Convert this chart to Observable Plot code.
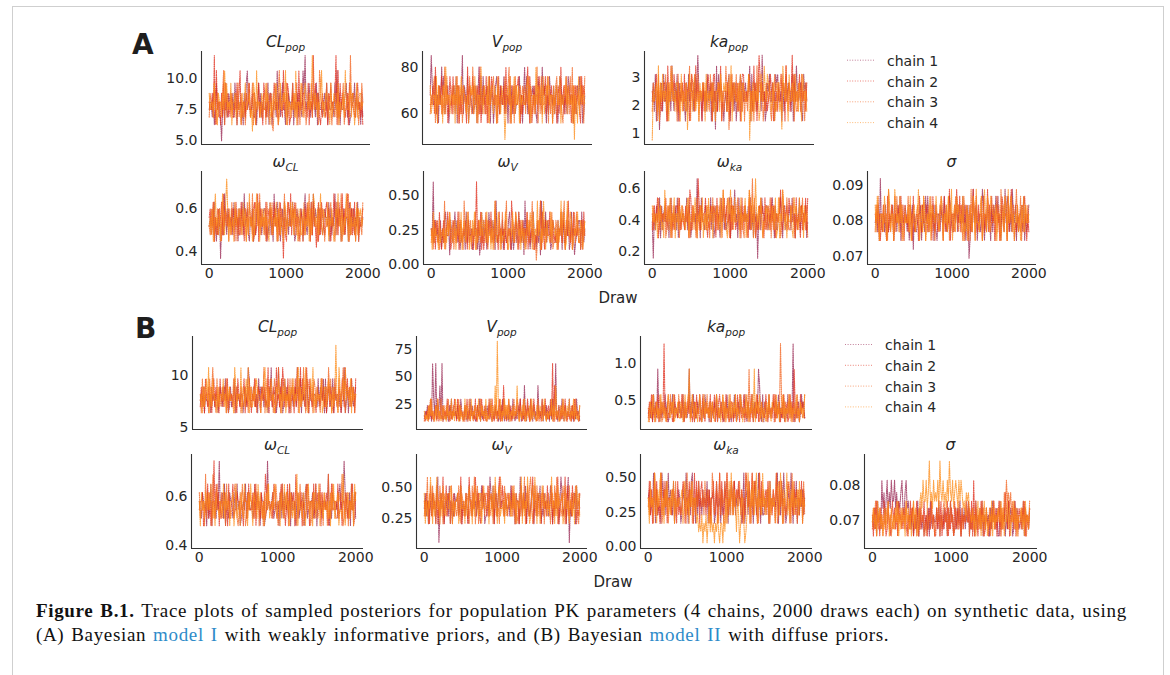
<!DOCTYPE html>
<html>
<head>
<meta charset="utf-8">
<script src="https://cdn.jsdelivr.net/npm/d3@7"></script>
<script src="https://cdn.jsdelivr.net/npm/@observablehq/plot@0.6"></script>
<style>
  html, body { margin: 0; padding: 0; background: #fff; }
  #fig { position: relative; width: 1170px; height: 675px; overflow: hidden; background: #fff; }
  #box { position: absolute; left: 12px; top: 6px; width: 1152px; height: 720px; border: 1px solid #cfcfcf; box-sizing: border-box; }
  .panel { position: absolute; }
  .panel svg { overflow: visible; display: block; }
  #labels { position: absolute; left: 0; top: 0; pointer-events: none; }
  #caption { position: absolute; left: 36px; top: 599px; font-family: "Liberation Serif", "Times New Roman", serif; font-size: 19px; letter-spacing: 0.66px; word-spacing: 1.5px; line-height: 24px; color: #111; white-space: nowrap; }
  #caption .lk { color: #2e8bc9; }
</style>
</head>
<body>
<div id="fig">
  <div id="box"></div>
  <div id="caption"><b>Figure B.1.</b> Trace plots of sampled posteriors for population PK parameters (4 chains, 2000 draws each) on synthetic data, using<br>(A) Bayesian <span class="lk">model I</span> with weakly informative priors, and (B) Bayesian <span class="lk">model II</span> with diffuse priors.</div>
</div>
<script>
// ---- chains, legend and draw axis ----
const chainLabels = ["chain 1", "chain 2", "chain 3", "chain 4"];
const chainColors = ["#9a2a55", "#e0301e", "#f26522", "#fd8d1c"];
const drawDomain = [-100, 2099];
const drawTicks = [0, 1000, 2000];

// Each trace is stored as a string of level codes (one digit per thinned draw);
// the matching *_levels array gives the parameter value of each code.

// (A) model I — CL_pop
const clPopA_levels = [5.0, 5.8, 6.3, 6.9, 7.5, 8.1, 8.8, 9.6, 10.6, 11.8];
const clPopA_chains = [
  "4553624745 3304527436 5446375254 5542637854 4463352574 6354453726 6245538463 5744263655 4725546364 3869454735 4653726445 3564725445 5374836254 4567352346 5736454263",
  "5446392845 5263744563 4653354746 8245536457 3456624573 5427634556 5347645256 4384557623 3655472845 4665437255 3947465324 6443526574 5569283746 5435627645 4356745352",
  "3654475263 5546827354 5364456273 4635524476 3572645553 4536627354 6214753685 4456372454 5746345526 7635245547 3655462874 3455736442 5436625345 7244563956 6536425475",
  "6455374426 5536485745 4725563445 4263574556 3417628455 3654475632 5364475237 4565826453 5463825547 4357654645 9746535468 4536654273 4655372544 6385445736 5247356645"
];
// (A) V_pop
const vPopA_levels = [49, 53, 56, 60, 64, 68, 72, 76, 80, 85];
const vPopA_chains = [
  "5964473526 4857345624 4556372645 5936547245 4364625837 3745564726 5246754364 4735526463 5634457352 5847342556 4632754485 6425375546 3562476453 5437645524 4365746235",
  "4456385264 5734566247 5374456625 3565428465 5734456382 4653725447 6455247365 4638454726 3546674253 5446837524 6355475436 5736445625 4525638456 3746552463 6455327465",
  "3546725446 5365837454 4635547263 6245536474 3856462534 5463362745 6744526355 4473568244 6274455636 5635472653 5448263754 4547263554 4673545326 6455374826 3654475627",
  "6345537264 4526384553 5546273645 7465435246 5637425548 4365547256 4365274436 5403564725 5736462545 4456736245 5384654627 3465745526 3564472545 5736445260 5427364554"
];
// (A) ka_pop
const kaPopA_levels = [0.78, 1.15, 1.45, 1.8, 2.15, 2.5, 2.8, 3.1, 3.4, 3.78];
const kaPopA_chains = [
  "4637255146 3744625538 5364726455 5426374655 3746955426 4537456263 5183746542 4536724563 6245573645 6455827346 4365539452 3657446527 6744526357 4655372648 5456327564",
  "5445736253 4665284456 4755362546 3745562476 5384645526 3546745627 7443658245 5536427465 5463526774 4547635384 6259746453 6345754253 5364475628 4563594745 4573645536",
  "3655427364 5547326485 6445273656 4463558274 6345725546 5364437526 4536647253 4856154736 4735645362 5437645526 3847565243 5546326475 6455736548 4365547253 3654745264",
  "0545638264 7455362648 4536654273 5436147553 6734526456 6273545463 4255637446 5633748256 5446372655 4457052635 5462374485 4765534624 3663418546 5274465374 5364276453"
];
// (A) omega_CL
const wClA_levels = [0.37, 0.42, 0.45, 0.48, 0.52, 0.56, 0.60, 0.63, 0.67, 0.74];
const wClA_chains = [
  "4546374253 6045385364 5463745526 4573845632 5462436547 4356652437 3528467452 4637545364 5742365546 5258436547 3846557364 3465547263 5483746524 6345527364 6354725445",
  "5634725436 4573846546 4536627453 3745265447 5536734825 6445372565 6347452637 4405326748 3657445236 5436475526 3754152637 5436756425 4855637458 4637845563 4725634456",
  "4364725365 5427356452 5374456263 6365442735 5482376548 3645527546 4735645273 6548437654 4563736425 5273564827 3645427365 6524453674 5427356482 4365582736 5346625437",
  "4536258453 6258437962 6345274556 5437462538 4526358472 5463645327 6345472653 5427635447 4736552463 3653547263 5874463584 3655472546 4236584526 3548526354 4527365645"
];
// (A) omega_V
const wVA_levels = [0.03, 0.07, 0.11, 0.16, 0.21, 0.26, 0.32, 0.38, 0.46, 0.60];
const wVA_chains = [
  "5493645346 2536744516 4357463524 3452736445 2364525137 3645237546 4628344536 2543367425 2563475436 1836442537 4425351846 4736542365 5336456273 3546237451 3456627435",
  "4536256374 2463447562 3564437265 3546526344 5255936472 5246365473 4384427354 5263445286 4375526346 3547263545 2436458274 2654473563 4352547365 2648536274 5463346274",
  "3526463425 4538256473 4625354736 4285347462 5347256435 3457426535 5274436527 4368254436 5364273645 5527436582 2403658274 4536654723 3652547368 2574436257 3745523646",
  "5273544263 4452536475 5346256437 2563475243 6472534647 4653734526 2583476253 4476325547 3476545263 5235647627 3548462538 5264437365 4526358476 2385476235 4573365246"
];
// (A) omega_ka
const wKaA_levels = [0.16, 0.24, 0.29, 0.34, 0.39, 0.44, 0.49, 0.54, 0.59, 0.66];
const wKaA_chains = [
  "4053645726 3564452673 5463726445 5447365245 4539462754 3654547362 3655427463 5344726558 4527365546 4463735264 5046375546 6345475263 3557426634 4563745254 4736554624",
  "5364572464 5547346525 4356657345 4364528736 4552963645 5742436556 5273654457 3644527365 3465527364 5427364552 4346556273 4653746425 4558436456 3764455273 5426354737",
  "3645547364 5462365472 6354472536 5356472436 5427536544 4536625474 6363547285 4574263654 5673454326 5238659472 5365742436 3547263645 5472386547 4336574253 4465735362",
  "6453526463 4285463725 4725536464 5436725446 3752546372 5363745625 5564372584 4327584637 4456273547 2548637259 5463752446 5634465372 3725486352 5446327564 3745626455"
];
// (A) sigma
const sigA_levels = [0.0695, 0.072, 0.0745, 0.077, 0.0795, 0.082, 0.0845, 0.087, 0.089, 0.092];
const sigA_chains = [
  "4536294553 6243545624 5364725446 5352446153 3455626437 4735546263 2553644753 4476435547 3654473625 6025384562 4534862536 5426364757 4526538476 3538546253 4563725346",
  "5463524364 4273546527 4556374625 4536652734 5527436445 6345527436 4346552736 3482553648 5473645265 2463485473 6455273548 3647452564 5237645527 3684524364 5346674253",
  "3647255364 5528436525 3745562446 4473625443 5652443762 5463736425 5534762554 3726544376 4356427556 4528376254 4367255437 6534465273 6285437625 4473655843 4725356464",
  "6375245537 5248635528 6453746235 4463724563 4582463752 4537265547 5436752546 3745825637 5645372436 2564375284 4357248537 4376554625 5524637528 4673525463 5264736445"
];

// (B) model II — CL_pop
const clPopB_levels = [5.3, 5.9, 6.4, 7.0, 7.6, 8.2, 8.9, 9.7, 10.8, 13.0];
const clPopB_chains = [
  "4536254435 2645355246 5364745236 3457264535 5246358744 4653527465 6353426483 5562483572 3746452563 4638457264 5375264435 5437365472 7246535726 4553524482 4625574356",
  "3645275364 5257364427 4536627354 5346427536 4572536452 5473346526 4563482753 6428453648 6354725445 2735648475 3684275364 4265537463 5257364527 5346527538 5746435627",
  "5273645527 3684527364 3655473264 5472364552 4346552736 4537265546 4825736445 2763485273 5463537274 6458273548 5237645527 6345426753 3648572364 5527346852 4556374625",
  "4526357482 6375442635 5473526464 4428635548 2653748263 3646754325 5784263574 5236574526 4725463657 3547826357 4862357482 5364547236 6357452635 9428635748 4653726455"
];
// (B) V_pop
const vPopB_levels = [8, 10, 12, 15, 19, 24, 30, 42, 62, 82];
const vPopB_chains = [
  "2435243186 3825472813 3241536243 4253164325 3142635241 2536142435 3526314253 4135263142 4153263142 5361427315 4263152437 3426153524 1526348315 4263152436 2351426341",
  "3142536241 3526143253 4263152436 4162534215 3624153426 1534263152 1352463152 4361527431 3625143426 5263142536 4125364215 2413536245 2638175243 1524363142 4152634213",
  "1324153624 2513426315 2536314253 3426153241 5316243152 3142635241 4263514236 1524316253 5231426354 4153261425 3162453216 1436253142 4352614235 1426351243 3524163425",
  "4231526342 1536241352 3152436241 6431524136 2543162435 4263153426 1324615372 9526143625 2614352437 3142536124 3516243152 3541263142 4361527341 2536142536 1436252315"
];
// (B) ka_pop
const kaPopB_levels = [0.17, 0.22, 0.27, 0.33, 0.40, 0.48, 0.58, 0.72, 0.92, 1.26];
const kaPopB_chains = [
  "3425163428 3152436251 2436153425 3426153248 2536142536 3152643415 1425361423 5214362531 4263125364 4263152436 1524387316 1534263245 4253614253 1426352491 3425136452",
  "2536142536 1425392413 3541264325 5263142536 2413526341 2463153426 2536142563 4152634125 5134263152 3614253162 4352614253 3264153426 1624351426 3541263518 4253163542",
  "4152634152 3641253146 2635142436 4236152463 4263152436 4152436251 1524361425 3641523162 3426153643 4325618253 1426351243 2541362435 6152439526 1435261425 1463254236",
  "1352461352 4163524136 4253614352 2541362458 1364253146 3146253425 2531465241 3625143625 2536143264 1436251436 2815436251 4315263154 4362514362 5143625143 3624153426"
];
// (B) omega_CL
const wClB_levels = [0.41, 0.45, 0.48, 0.51, 0.545, 0.58, 0.615, 0.65, 0.69, 0.745];
const wClB_chains = [
  "5436545263 4725543649 4563725436 5534647452 3454736644 5347465526 5523495445 6345452637 3654537264 4525634556 2673445563 4725645355 5458243654 4536745596 5436274463",
  "4556234573 6245937462 5346654273 4573446553 5426553744 4637255436 3538645545 3764345574 5524736465 6285344625 4347625537 3456472645 4652437445 5473462553 6345547236",
  "6344528364 5528346755 3645527463 3446753246 4755236465 5463746255 4263475543 6457523647 4356627345 5532647452 3674552364 5743456526 4528364755 3346558236 4625374456",
  "5264536546 4753526443 5437364552 5562473452 6437552647 4265537464 3525647345 4674355264 3746452653 5358264436 5246735526 6354725436 4453526473 5562443852 4563546275"
];
// (B) omega_V
const wVB_levels = [0.06, 0.15, 0.21, 0.27, 0.33, 0.39, 0.45, 0.51, 0.58, 0.70];
const wVB_chains = [
  "4635245364 5258036452 5463725436 5563472543 6427543645 3645574623 3538647256 3674554364 4537465265 5285364725 4346725536 5724364553 4752536442 5863452580 4356627454",
  "5364527536 4472536482 4736554263 5563482453 6428553648 5463247565 3735645275 3684475364 3654736425 5257364527 5346827536 4526645374 4572536482 4563482753 5374562436",
  "3548265374 5256374526 5346627454 5347526534 4562537482 4725364536 6573452653 4428653745 6453547263 2635548265 3784265374 3564725446 4256374826 5347526537 4635574326",
  "6253548526 3584526374 3654476253 5562374452 6347552637 5436625744 4525637485 2673445263 4563374625 5458263548 5236748526 6247546535 3584526374 5562374452 5436257463"
];
// (B) omega_ka
const wKaB_levels = [0.03, 0.11, 0.17, 0.23, 0.29, 0.35, 0.41, 0.47, 0.53, 0.61];
const wKaB_chains = [
  "5634485263 4428563748 4653725446 5236548526 3784526374 5364547263 5562374452 6347552637 6473546552 4825637445 2673485263 3546627454 5458263748 5236548526 4725364635",
  "4736258473 5285374625 5436654273 4347625537 4652837462 6745536462 5573462583 7426583546 5374657546 2538746258 3764258374 4563725436 5285374625 4347625537 3654547264",
  "5374528364 4582364752 4536627354 5346752836 4725536475 5463745625 2863475283 6457283547 3745564736 5238647528 3674528364 6354472546 4582364752 5346752836 5426365473",
  "5264538526 4783526473 5364725445 5562473452 6473552312 1302130241 3120213102 2031524738 5364153025 5201385264 7358264538 4536627354 5246738526 4583526473 5463746254"
];
// (B) sigma
const sigB_levels = [0.0635, 0.0655, 0.0675, 0.0695, 0.0715, 0.0735, 0.0755, 0.078, 0.0815, 0.087];
const sigB_chains = [
  "3425163428 5736847586 6857465785 4785634251 3426153241 3425163243 3526143253 4152634125 2536143524 3614253162 4352614253 4152634251 1624351426 3541263542 3426153425",
  "4152634152 3641253146 3524163425 2531426351 4263152436 2413526341 1524361425 3614253162 3524152436 4352618253 1426351243 1425362514 6152437526 1435261425 4253614325",
  "2536142534 1425362413 2436153524 5263142536 2413526341 3152436241 2536142563 4152634125 4263152435 3614253162 4352614253 2514362435 3615274867 5746352514 4536251436",
  "3524163524 1352461352 4253614253 4163524136 2541367586 6857967586 7685976867 5869768578 7586875647 6754352413 6251436251 2436152435 4362514362 5143625143 3524163425"
];

// ---- page layout: axes boxes [left, right] per column, top/bottom per row ----
const grids = {
  aTop:    { top: 51,  bottom: 144, cols: [[201, 370], [422, 592], [644, 814]], xAxis: false },
  aBottom: { top: 171, bottom: 264, cols: [[201, 370], [423, 592], [644, 815], [867, 1036]], xAxis: true },
  bTop:    { top: 336, bottom: 429, cols: [[192, 363], [416, 587], [640, 812]], xAxis: false },
  bBottom: { top: 454, bottom: 548, cols: [[191, 363], [416, 587], [640, 812], [864, 1037]], xAxis: true }
};

const panels = [
  { grid: "aTop", col: 0, title: ["CL", "pop"], levels: clPopA_levels, chains: clPopA_chains, domain: [4.72, 12.12], ticks: [5, 7.5, 10], fmt: ".1f" },
  { grid: "aTop", col: 1, title: ["V", "pop"], levels: vPopA_levels, chains: vPopA_chains, domain: [46.8, 86.7], ticks: [60, 80], fmt: "d" },
  { grid: "aTop", col: 2, title: ["ka", "pop"], levels: kaPopA_levels, chains: kaPopA_chains, domain: [0.62, 3.91], ticks: [1, 2, 3], fmt: "d" },
  { grid: "aBottom", col: 0, title: ["ω", "CL"], levels: wClA_levels, chains: wClA_chains, domain: [0.342, 0.773], ticks: [0.4, 0.6], fmt: ".1f" },
  { grid: "aBottom", col: 1, title: ["ω", "V"], levels: wVA_levels, chains: wVA_chains, domain: [0.0, 0.675], ticks: [0, 0.25, 0.5], fmt: ".2f" },
  { grid: "aBottom", col: 2, title: ["ω", "ka"], levels: wKaA_levels, chains: wKaA_chains, domain: [0.121, 0.706], ticks: [0.2, 0.4, 0.6], fmt: ".1f" },
  { grid: "aBottom", col: 3, title: ["σ", ""], levels: sigA_levels, chains: sigA_chains, domain: [0.0677, 0.094], ticks: [0.07, 0.08, 0.09], fmt: ".2f" },
  { grid: "bTop", col: 0, title: ["CL", "pop"], levels: clPopB_levels, chains: clPopB_chains, domain: [4.78, 13.8], ticks: [5, 10], fmt: "d" },
  { grid: "bTop", col: 1, title: ["V", "pop"], levels: vPopB_levels, chains: vPopB_chains, domain: [2.5, 86.3], ticks: [25, 50, 75], fmt: "d" },
  { grid: "bTop", col: 2, title: ["ka", "pop"], levels: kaPopB_levels, chains: kaPopB_chains, domain: [0.115, 1.353], ticks: [0.5, 1.0], fmt: ".1f" },
  { grid: "bBottom", col: 0, title: ["ω", "CL"], levels: wClB_levels, chains: wClB_chains, domain: [0.3865, 0.771], ticks: [0.4, 0.6], fmt: ".1f" },
  { grid: "bBottom", col: 1, title: ["ω", "V"], levels: wVB_levels, chains: wVB_chains, domain: [0.013, 0.758], ticks: [0.25, 0.5], fmt: ".2f" },
  { grid: "bBottom", col: 2, title: ["ω", "ka"], levels: wKaB_levels, chains: wKaB_chains, domain: [-0.011, 0.662], ticks: [0, 0.25, 0.5], fmt: ".2f" },
  { grid: "bBottom", col: 3, title: ["σ", ""], levels: sigB_levels, chains: sigB_chains, domain: [0.0619, 0.0889], ticks: [0.07, 0.08], fmt: ".2f" }
];

const ink = "#262626";
const fig = document.getElementById("fig");

// decode a chain string into {chain, draw, value} rows
function traceRows(levels, chains) {
  const rows = [];
  chains.forEach((s, c) => {
    const codes = s.replace(/\s+/g, "");
    const n = codes.length;
    for (let i = 0; i < n; i++) {
      rows.push({ chain: c, draw: Math.round(i * 1999 / (n - 1)), value: levels[+codes[i]] });
    }
  });
  return rows;
}

for (const p of panels) {
  const g = grids[p.grid];
  const [L, R] = g.cols[p.col];
  const ml = 60, mr = 0, mb = g.xAxis ? 26 : 2;
  const chart = Plot.plot({
    width: R - L + ml + mr,
    height: g.bottom - g.top + mb,
    marginLeft: ml, marginRight: mr, marginTop: 0, marginBottom: mb,
    x: { domain: drawDomain, label: null, axis: g.xAxis ? undefined : null },
    y: { domain: p.domain, label: null },
    color: { type: "ordinal", domain: [0, 1, 2, 3], range: chainColors },
    style: { fontFamily: "DejaVu Sans, sans-serif", fontSize: "14px", color: ink, background: "transparent", overflow: "visible" },
    marks: [
      Plot.line(traceRows(p.levels, p.chains), {
        x: "draw", y: "value", z: "chain", stroke: "chain",
        strokeWidth: 1.1, strokeOpacity: 0.8, strokeDasharray: "1,1.2"
      }),
      Plot.axisY({ ticks: p.ticks, tickSize: 0, tickPadding: 4, tickFormat: d3.format(p.fmt), label: null }),
      g.xAxis ? Plot.axisX({ ticks: drawTicks, tickSize: 0, tickPadding: 4, tickFormat: d3.format("d"), label: null }) : null,
      Plot.ruleX([drawDomain[0]], { stroke: "#333", strokeWidth: 1.1 }),
      Plot.ruleY([p.domain[0]], { stroke: "#333", strokeWidth: 1.1 })
    ]
  });
  const holder = document.createElement("div");
  holder.className = "panel";
  holder.style.left = (L - ml) + "px";
  holder.style.top = g.top + "px";
  holder.appendChild(chart);
  fig.appendChild(holder);
}

// ---- titles, panel letters, legends, shared x labels ----
const svg = d3.select("#fig").append("svg").attr("id", "labels")
  .attr("width", 1170).attr("height", 675)
  .attr("font-family", "DejaVu Sans, sans-serif").attr("fill", ink);

for (const p of panels) {
  const g = grids[p.grid];
  const [L, R] = g.cols[p.col];
  const t = svg.append("text").attr("x", (L + R) / 2).attr("y", g.top - 4)
    .attr("text-anchor", "middle").attr("font-style", "italic").attr("font-size", 15.5);
  t.append("tspan").text(p.title[0]);
  if (p.title[1]) t.append("tspan").attr("font-size", 10.5).attr("dy", 3.5).text(p.title[1]);
}

svg.append("text").attr("x", 132).attr("y", 54).attr("font-size", 28).attr("font-weight", "bold").attr("fill", "#1e1e1e").text("A");
svg.append("text").attr("x", 135).attr("y", 338).attr("font-size", 28).attr("font-weight", "bold").attr("fill", "#1e1e1e").text("B");

svg.append("text").attr("x", 618).attr("y", 303).attr("text-anchor", "middle").attr("font-size", 15).text("Draw");
svg.append("text").attr("x", 613).attr("y", 587).attr("text-anchor", "middle").attr("font-size", 15).text("Draw");

function legend(x0, y0) {
  chainLabels.forEach((lab, i) => {
    const y = y0 + i * 20.8;
    svg.append("line").attr("x1", x0).attr("x2", x0 + 28).attr("y1", y - 5.5).attr("y2", y - 5.5)
      .attr("stroke", chainColors[i]).attr("stroke-opacity", 0.6).attr("stroke-width", 1).attr("stroke-dasharray", "1,1.6");
    svg.append("text").attr("x", x0 + 40).attr("y", y).attr("font-size", 14).text(lab);
  });
}
legend(847, 65.7);
legend(845, 350);
</script>
</body>
</html>
